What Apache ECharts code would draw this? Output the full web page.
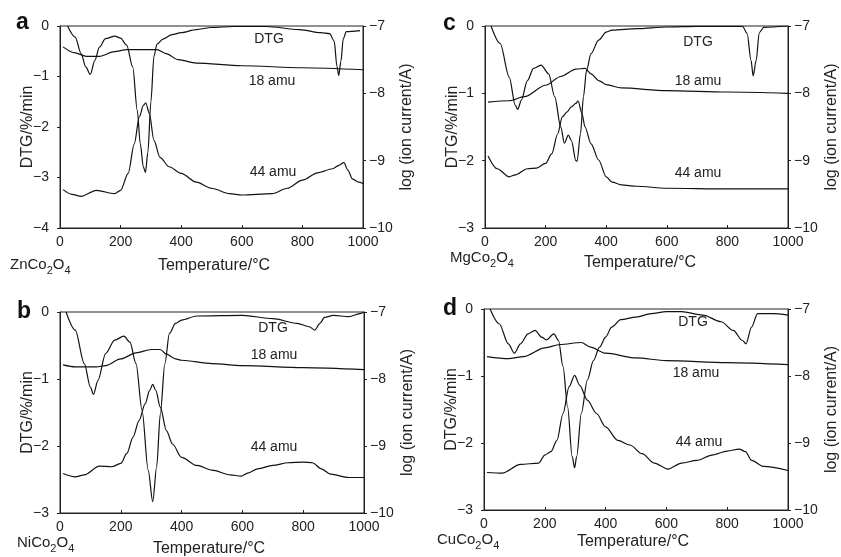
<!DOCTYPE html>
<html><head><meta charset="utf-8">
<script src="https://cdn.jsdelivr.net/npm/echarts@6/dist/echarts.min.js"></script>
<style>html,body{margin:0;padding:0;background:#fff}#c{width:841px;height:557px}</style>
</head><body><div id="c"></div>
<script>
// Temperature / value pairs
const xTicks = [0, 200, 400, 600, 800, 1000];
const panelLetters = ['a', 'b', 'c', 'd'];
const sampleNames = [['Zn', 'Co', '2', 'O', '4'], ['Ni', 'Co', '2', 'O', '4'], ['Mg', 'Co', '2', 'O', '4'], ['Cu', 'Co', '2', 'O', '4']];
const curveNames = ['DTG', '18 amu', '44 amu'];

// Panel a (ZnCo2O4)
const aDTG = [[25,0],[50,-0.22],[70,-0.55],[85,-0.81],[100,-0.96],[115,-0.68],[130,-0.42],[150,-0.25],[181,-0.2],[200,-0.24],[220,-0.38],[240,-0.81],[255,-1.67],[265,-2.33],[275,-2.79],[282,-2.9],[290,-2.5],[300,-1.5],[310,-0.6],[320,-0.36],[340,-0.26],[370,-0.17],[400,-0.13],[450,-0.07],[500,-0.03],[572,-0.01],[680,-0.01],[790,-0.07],[860,-0.13],[890,-0.15],[905,-0.3],[914,-0.8],[920,-0.98],[927,-0.7],[935,-0.25],[945,-0.11],[990,-0.09]];
const a18 = [[10,-7.31],[50,-7.4],[87,-7.45],[130,-7.45],[180,-7.38],[220,-7.35],[270,-7.35],[320,-7.35],[350,-7.41],[390,-7.5],[450,-7.55],[600,-7.59],[800,-7.62],[1000,-7.65]];
const a44 = [[10,-9.43],[40,-9.5],[70,-9.53],[120,-9.44],[180,-9.49],[200,-9.44],[225,-9.19],[245,-8.75],[262,-8.35],[275,-8.18],[283,-8.14],[295,-8.3],[310,-8.7],[330,-8.95],[360,-9.09],[400,-9.19],[450,-9.32],[500,-9.41],[560,-9.49],[600,-9.51],[700,-9.49],[750,-9.41],[800,-9.29],[850,-9.18],[900,-9.12],[920,-9.07],[937,-9.03],[950,-9.14],[965,-9.27],[985,-9.32],[1000,-9.34]];

// Panel b (NiCo2O4)
const bDTG = [[20,0],[50,-0.27],[80,-0.77],[100,-1.12],[110,-1.23],[125,-1.02],[150,-0.62],[180,-0.42],[210,-0.36],[230,-0.45],[250,-0.77],[270,-1.47],[290,-2.36],[305,-2.83],[318,-2.31],[330,-1.52],[345,-0.77],[360,-0.32],[380,-0.17],[400,-0.12],[450,-0.06],[600,-0.05],[700,-0.1],[780,-0.17],[820,-0.22],[838,-0.27],[855,-0.17],[870,-0.08],[900,-0.05],[950,-0.07],[990,-0.02],[1000,0]];
const b18 = [[10,-7.79],[50,-7.82],[120,-7.82],[150,-7.8],[200,-7.7],[250,-7.61],[300,-7.56],[330,-7.56],[350,-7.63],[380,-7.7],[400,-7.72],[500,-7.77],[600,-7.8],[800,-7.83],[1000,-7.86]];
const b44 = [[10,-9.41],[50,-9.46],[80,-9.43],[130,-9.3],[170,-9.31],[200,-9.26],[220,-9.11],[240,-8.87],[260,-8.62],[280,-8.37],[295,-8.17],[305,-8.08],[315,-8.17],[330,-8.42],[350,-8.77],[370,-8.97],[400,-9.17],[450,-9.29],[500,-9.36],[560,-9.43],[595,-9.45],[620,-9.4],[650,-9.34],[700,-9.29],[750,-9.25],[800,-9.24],[830,-9.25],[860,-9.34],[890,-9.42],[950,-9.47],[1000,-9.47]];

// Panel c (MgCo2O4)
const cDTG = [[20,0],[50,-0.26],[80,-0.76],[100,-1.18],[108,-1.24],[120,-1.1],[140,-0.81],[160,-0.63],[185,-0.58],[210,-0.71],[230,-1.05],[250,-1.5],[262,-1.74],[275,-1.62],[285,-1.7],[300,-2.0],[304,-2.01],[315,-1.6],[325,-1.05],[335,-0.66],[350,-0.41],[375,-0.21],[400,-0.09],[420,-0.06],[500,-0.04],[600,-0.015],[700,-0.005],[850,-0.005],[865,-0.11],[878,-0.51],[885,-0.74],[895,-0.51],[905,-0.1],[920,-0.02],[1000,0]];
const c18 = [[10,-8.13],[80,-8.11],[130,-8.05],[200,-7.88],[250,-7.75],[300,-7.64],[330,-7.63],[350,-7.71],[375,-7.81],[400,-7.87],[450,-7.92],[600,-7.96],[800,-7.98],[1000,-8.0]];
const c44 = [[10,-8.93],[40,-9.12],[80,-9.24],[100,-9.21],[140,-9.12],[170,-9.11],[200,-9.04],[220,-8.9],[240,-8.6],[255,-8.35],[270,-8.28],[285,-8.2],[300,-8.15],[307,-8.11],[320,-8.3],[330,-8.5],[350,-8.75],[375,-8.99],[400,-9.24],[420,-9.32],[450,-9.36],[500,-9.38],[600,-9.41],[800,-9.42],[1000,-9.42]];

// Panel d (CuCo2O4)
const dDTG = [[20,0],[50,-0.22],[80,-0.52],[100,-0.66],[120,-0.52],[145,-0.37],[168,-0.32],[190,-0.42],[205,-0.46],[230,-0.37],[245,-0.47],[260,-0.86],[275,-1.46],[290,-2.2],[298,-2.37],[305,-2.2],[320,-1.56],[340,-1.06],[360,-0.77],[380,-0.57],[400,-0.42],[420,-0.27],[450,-0.16],[500,-0.12],[550,-0.07],[600,-0.04],[650,-0.04],[720,-0.09],[780,-0.19],[820,-0.32],[850,-0.47],[862,-0.52],[880,-0.27],[900,-0.07],[950,-0.07],[1000,-0.09]];
const d18 = [[10,-7.71],[80,-7.74],[130,-7.71],[200,-7.58],[250,-7.53],[320,-7.5],[350,-7.57],[400,-7.66],[500,-7.73],[600,-7.77],[800,-7.8],[1000,-7.83]];
const d44 = [[10,-9.44],[60,-9.45],[120,-9.32],[180,-9.3],[200,-9.18],[220,-9.13],[240,-8.96],[260,-8.56],[280,-8.16],[298,-7.99],[315,-8.14],[340,-8.36],[370,-8.56],[400,-8.76],[440,-8.96],[480,-9.03],[520,-9.16],[560,-9.3],[605,-9.39],[650,-9.3],[700,-9.26],[750,-9.18],[800,-9.12],[840,-9.09],[860,-9.13],[880,-9.26],[920,-9.35],[1000,-9.41]];

const dtgMins = [-4, -3, -3, -3];
const ionMin = -10, ionMax = -7;

const panels = [
  {grid:{left:60, top:26, width:303, height:202}, data:[aDTG,a18,a44],
   letter:[16,11], sample:[10,257], xname:[214,258],
   labels:[[269,39],[272,81],[273,172]]},
  {grid:{left:60, top:312, width:304, height:201}, data:[bDTG,b18,b44],
   letter:[17,300], sample:[17,535], xname:[209,541],
   labels:[[273,328],[274,355],[274,447]]},
  {grid:{left:485, top:26, width:304, height:202}, data:[cDTG,c18,c44],
   letter:[443,12], sample:[450,250], xname:[640,255],
   labels:[[698,42],[698,81],[698,173]]},
  {grid:{left:484, top:309, width:305, height:201}, data:[dDTG,d18,d44],
   letter:[443,297], sample:[437,532], xname:[633,534],
   labels:[[693,322],[696,373],[699,442]]}
];

const FONT = '"Liberation Sans", Arial, sans-serif';
const minus = v => String(v).replace('-', '\u2212');
const axisLine = {show:true, onZero:false, lineStyle:{color:'#222', width:1}};

const grids = [], xAxes = [], yAxes = [], series = [], graphics = [];
panels.forEach((p, i) => {
  grids.push(Object.assign({show:true, borderColor:'#222', borderWidth:1, backgroundColor:'transparent'}, p.grid));
  xAxes.push({type:'value', gridIndex:i, min:xTicks[0], max:xTicks[xTicks.length-1], interval:200,
    axisLine:axisLine, axisTick:{show:true, inside:true, length:3, lineStyle:{color:'#222'}},
    axisLabel:{color:'#222', fontSize:14, fontFamily:FONT, margin:7, formatter:v => String(v)}, splitLine:{show:false}});
  yAxes.push({type:'value', gridIndex:i, position:'left', min:dtgMins[i], max:0, interval:1,
    name:'DTG/%/min', nameLocation:'middle', nameGap:24, nameRotate:90, nameMoveOverlap:false,
    nameTextStyle:{color:'#222', fontSize:16, fontFamily:FONT},
    axisLine:axisLine, axisTick:{show:true, length:3, lineStyle:{color:'#222'}},
    axisLabel:{color:'#222', fontSize:14, fontFamily:FONT, margin:11, formatter:minus}, splitLine:{show:false}});
  yAxes.push({type:'value', gridIndex:i, position:'right', min:ionMin, max:ionMax, interval:1,
    name:'log (ion current/A)', nameLocation:'middle', nameGap:36, nameRotate:90, nameMoveOverlap:false,
    nameTextStyle:{color:'#222', fontSize:16, fontFamily:FONT},
    axisLine:axisLine, axisTick:{show:true, length:3, lineStyle:{color:'#222'}},
    axisLabel:{color:'#222', fontSize:14, fontFamily:FONT, margin:6, formatter:minus}, splitLine:{show:false}});
  p.data.forEach((d, k) => {
    series.push({type:'line', name:curveNames[k] + ' ' + panelLetters[i], xAxisIndex:i, yAxisIndex:i*2 + (k === 0 ? 0 : 1),
      data:d, showSymbol:false, smooth:0.3, smoothMonotone:'x',
      lineStyle:{color:'#111', width:1.2}, silent:true, animation:false});
  });
  graphics.push({type:'text', left:p.letter[0], top:p.letter[1],
    style:{text:panelLetters[i], font:'bold 23px ' + FONT, fill:'#111'}});
  const s = sampleNames[i];
  graphics.push({type:'text', left:p.sample[0], top:p.sample[1],
    style:{text:'{m|' + s[0] + s[1] + '}{s|' + s[2] + '}{m|' + s[3] + '}{s|' + s[4] + '}',
      rich:{m:{fontSize:15, fontFamily:FONT, fill:'#222', lineHeight:17, verticalAlign:'top'},
            s:{fontSize:11, fontFamily:FONT, fill:'#222', lineHeight:11, padding:[8,0,0,0], verticalAlign:'top'}}}});
  graphics.push({type:'text', x:p.xname[0], y:p.xname[1],
    style:{text:'Temperature/°C', font:'16px ' + FONT, fill:'#222', textAlign:'center'}});
  curveNames.forEach((n, k) => {
    graphics.push({type:'text', x:p.labels[k][0], y:p.labels[k][1],
      style:{text:n, font:'14px ' + FONT, fill:'#222', textAlign:'center', textVerticalAlign:'middle'}});
  });
});

const chart = echarts.init(document.getElementById('c'), null, {renderer:'canvas'});
chart.setOption({backgroundColor:'#fff', animation:false, grid:grids, xAxis:xAxes, yAxis:yAxes, series:series, graphic:graphics});
</script></body></html>
